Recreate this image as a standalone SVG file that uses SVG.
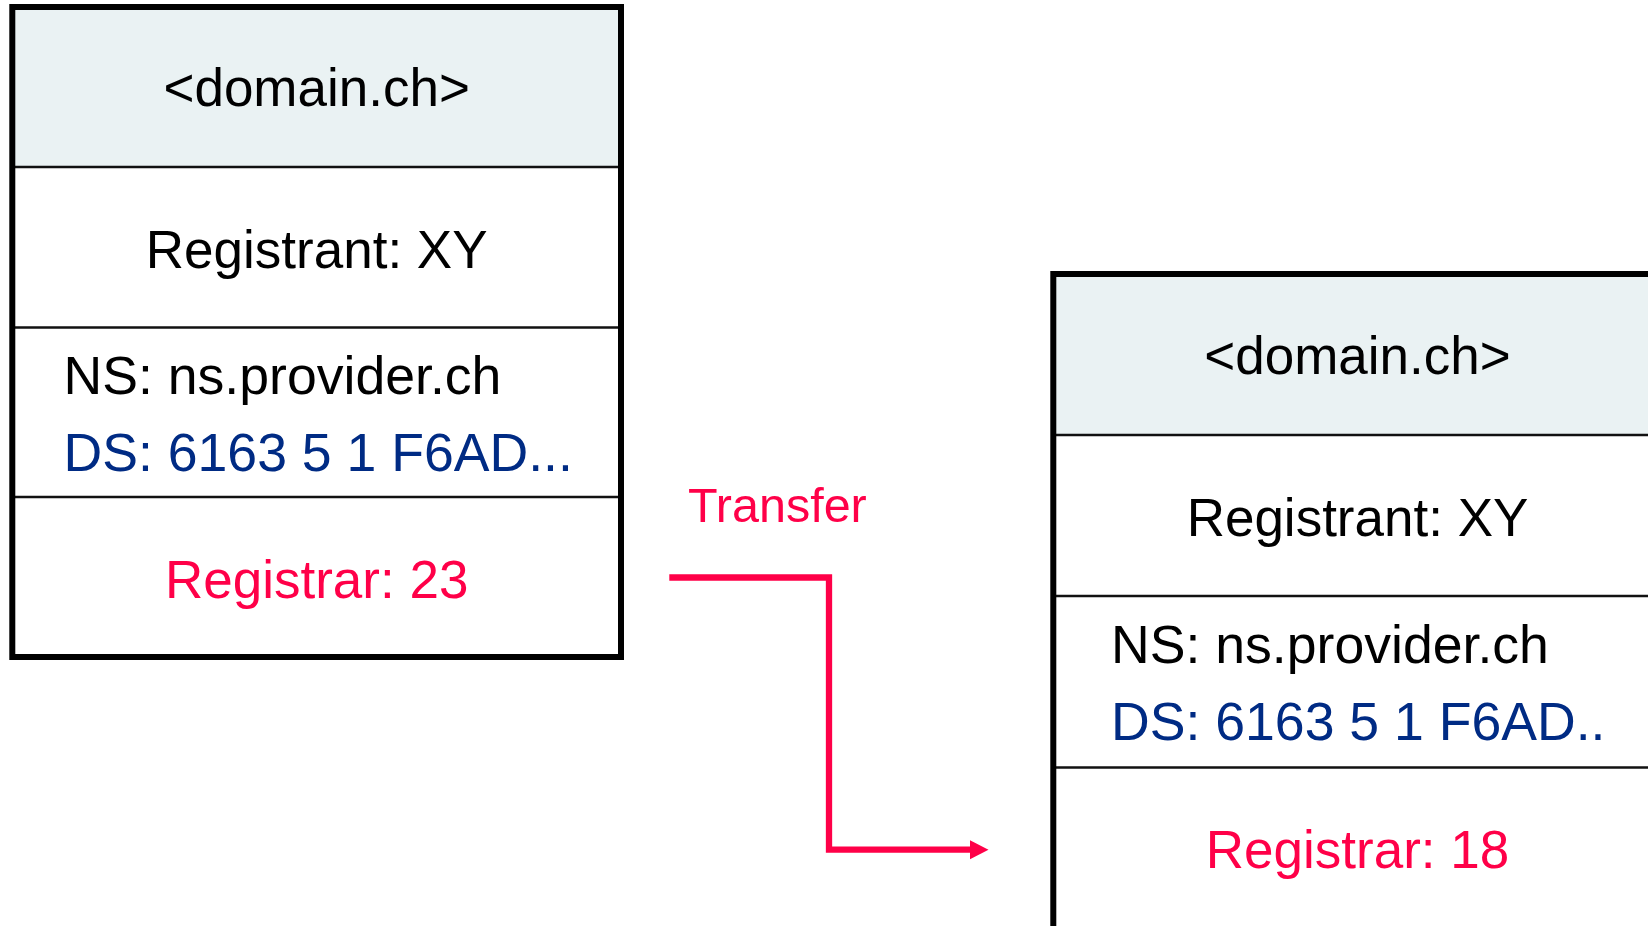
<svg xmlns="http://www.w3.org/2000/svg" width="1648" height="926" viewBox="0 0 1648 926">
  <style>
    .frame { fill: none; stroke: #000; stroke-width: 6; }
    .head { fill: #EAF2F3; stroke: none; }
    .sep { stroke: #111; stroke-width: 2.5; }
    .t { font-family: "Liberation Sans", Arial, sans-serif; font-size: 53px; fill: #000; }
    .l { font-size: 53.6px; }
    .c { text-anchor: middle; }
    .ds { fill: #002B84; }
    .red { fill: #FF0048; }
    .conn { fill: none; stroke: #FF0048; stroke-width: 6.3; stroke-linejoin: miter; }
  </style>
  <defs>
    <marker id="arrow" markerUnits="userSpaceOnUse" markerWidth="20" markerHeight="20" viewBox="0 0 20 20" refX="1" refY="10" orient="auto">
      <path d="M0,0.3 L19,10 L0,19.7 Z" fill="#FF0048"/>
    </marker>
  </defs>
  <rect width="1648" height="926" fill="#fff"/>

  <g id="node-old">
    <rect class="head" x="12.3" y="7" width="608.7" height="160"/>
    <line class="sep" x1="12.3" y1="167" x2="621" y2="167"/>
    <line class="sep" x1="12.3" y1="327.5" x2="621" y2="327.5"/>
    <line class="sep" x1="12.3" y1="497" x2="621" y2="497"/>
    <rect class="frame" x="12.3" y="7" width="608.7" height="650"/>
    <text class="t c" x="316.7" y="106">&lt;domain.ch&gt;</text>
    <text class="t c" x="316.7" y="268">Registrant: XY</text>
    <text class="t l" x="63.5" y="394">NS: ns.provider.ch</text>
    <text class="t l ds" x="63.5" y="471">DS: 6163 5 1 F6AD...</text>
    <text class="t c red" x="316.7" y="598">Registrar: 23</text>
  </g>

  <g id="node-new">
    <rect class="head" x="1053.3" y="274" width="608.7" height="161"/>
    <line class="sep" x1="1053.3" y1="435" x2="1662" y2="435"/>
    <line class="sep" x1="1053.3" y1="596" x2="1662" y2="596"/>
    <line class="sep" x1="1053.3" y1="767.6" x2="1662" y2="767.6"/>
    <rect class="frame" x="1053.3" y="274" width="608.7" height="700"/>
    <text class="t c" x="1357.5" y="374">&lt;domain.ch&gt;</text>
    <text class="t c" x="1357.5" y="536">Registrant: XY</text>
    <text class="t l" x="1111" y="662.5">NS: ns.provider.ch</text>
    <text class="t l ds" x="1111" y="740">DS: 6163 5 1 F6AD..</text>
    <text class="t c red" x="1357.5" y="868">Registrar: 18</text>
  </g>

  <g id="connectors">
    <path class="conn" d="M669.3,577.5 H829 V849.7 H970.5" marker-end="url(#arrow)"/>
    <text class="t red" x="688" y="521.7" style="font-size:48.5px">Transfer</text>
  </g>
</svg>
